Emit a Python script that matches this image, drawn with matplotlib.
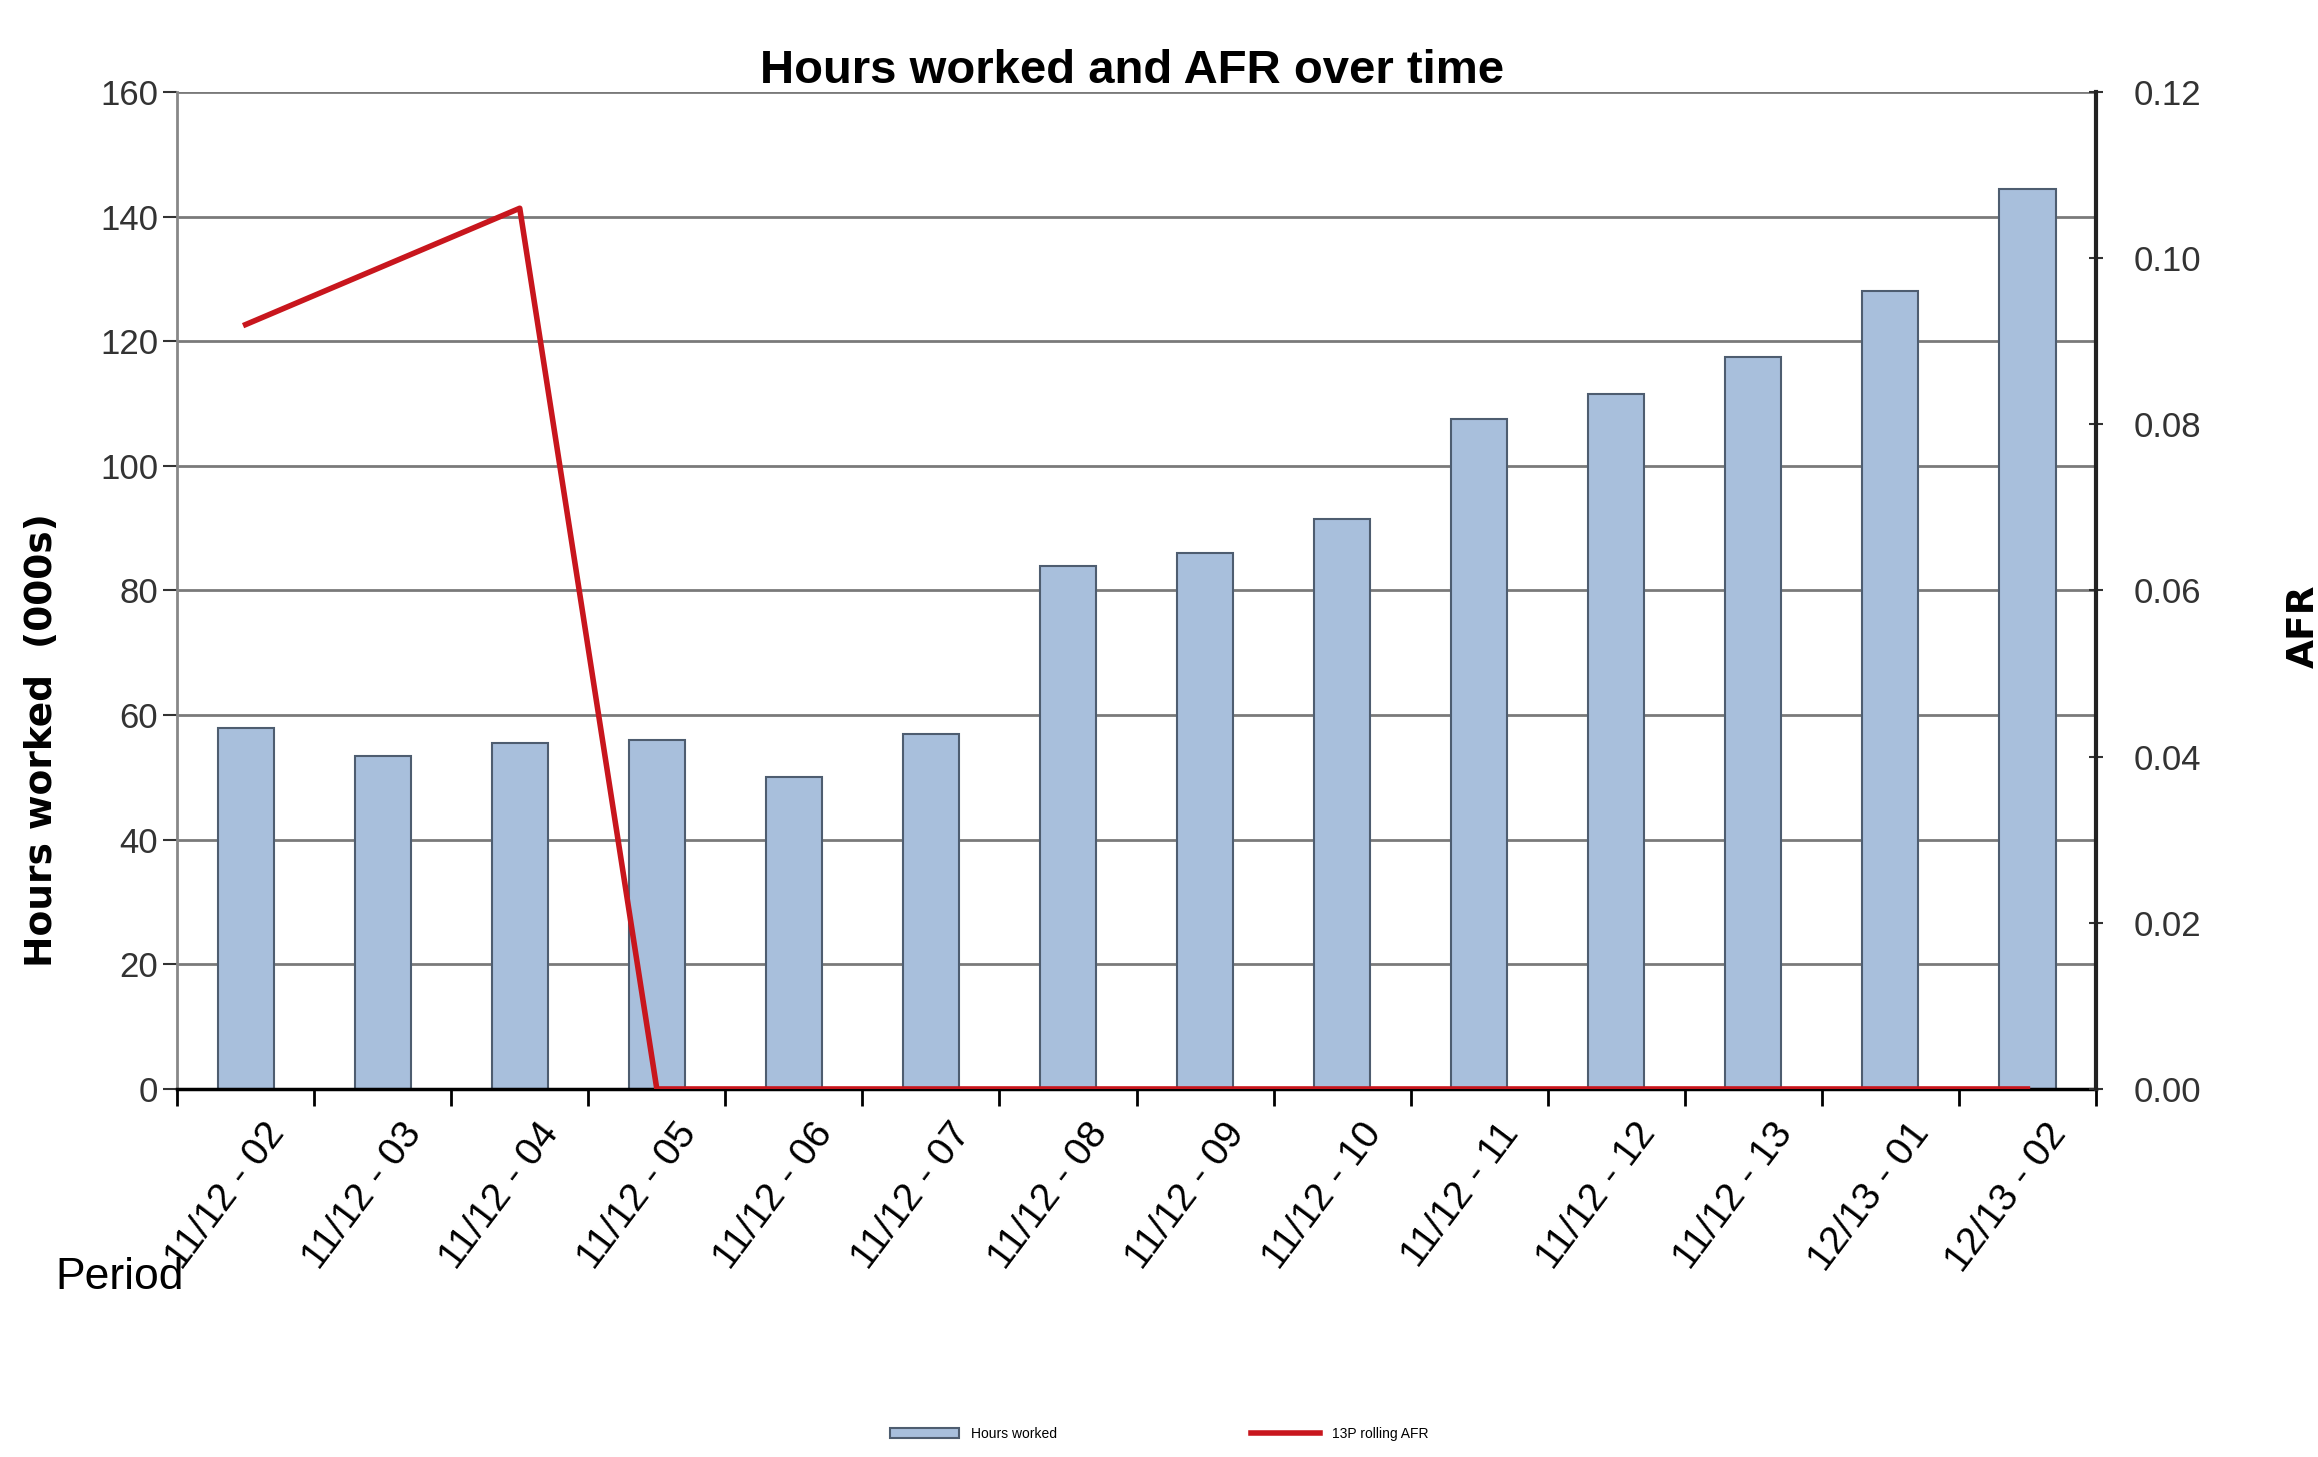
import numpy as np
import matplotlib
matplotlib.use("Agg")
import matplotlib.pyplot as plt
from matplotlib.transforms import ScaledTranslation

# --------------------------------------------------
# DATA
# --------------------------------------------------
periods = ["11/12 - 02", "11/12 - 03", "11/12 - 04", "11/12 - 05", "11/12 - 06",
           "11/12 - 07", "11/12 - 08", "11/12 - 09", "11/12 - 10", "11/12 - 11",
           "11/12 - 12", "11/12 - 13", "12/13 - 01", "12/13 - 02"]
hours_worked = [58, 53.5, 55.5, 56, 50, 57, 84, 86, 91.5, 107.5, 111.5, 117.5, 128, 144.5]
afr = [0.092, 0.099, 0.106, 0, 0, 0, 0, 0, 0, 0, 0, 0, 0, 0]
left_ticks = [0, 20, 40, 60, 80, 100, 120, 140, 160]
right_ticks = [0.00, 0.02, 0.04, 0.06, 0.08, 0.10, 0.12]

plt.rcParams["font.family"] = ["Liberation Sans", "DejaVu Sans"]

fig = plt.figure(figsize=(23.18, 14.57), dpi=100)
ax = fig.add_axes([0.0764, 0.2526, 0.8278, 0.6843])

x = np.arange(len(periods))
ax.bar(x, hours_worked, width=0.41, color="#a8bfdc", edgecolor="#4e5d70",
       linewidth=1.5, zorder=3, label="Hours worked")
ax.set_xlim(-0.5, len(periods) - 0.5)
ax.set_ylim(0, 160)
ax.set_yticks(left_ticks)
ax.tick_params(axis="y", labelsize=25, length=10, width=1.5, colors="#333333")
ax.yaxis.grid(True, color="#7a7a7a", linewidth=2, zorder=0)

# category ticks at the boundaries, labels at the centres
ax.set_xticks(np.arange(len(periods) + 1) - 0.5)
ax.set_xticklabels([])
ax.set_xticks(x, minor=True)
ax.set_xticklabels(periods, minor=True, rotation=53, ha="right", va="top",
                   rotation_mode="anchor", fontsize=28)
ax.tick_params(axis="x", which="major", length=12, width=2, direction="out")
ax.tick_params(axis="x", which="minor", length=0, pad=20)
offset = ScaledTranslation(0.18, 0, fig.dpi_scale_trans)
for lbl in ax.get_xticklabels(minor=True):
    lbl.set_transform(lbl.get_transform() + offset)

for side in ["top", "right"]:
    ax.spines[side].set_visible(False)
ax.spines["left"].set_color("#888888")
ax.spines["left"].set_linewidth(2)
ax.spines["bottom"].set_linewidth(2.5)
ax.spines["bottom"].set_zorder(5)

ax.set_ylabel("Hours worked  (000s)", fontsize=27, fontweight="bold",
              family=["DejaVu Sans"])
ax.yaxis.set_label_coords(-0.061, 0.35)

ax2 = ax.twinx()
ax2.plot(x, afr, color="#c8161d", linewidth=4, zorder=4, label="13P rolling AFR")
ax2.set_ylim(0, 0.12)
ax2.set_yticks(right_ticks)
ax2.set_yticklabels([f"{t:.2f}" for t in right_ticks])
ax2.tick_params(axis="y", labelsize=25, length=10, width=1.5, direction="inout",
                pad=22, colors="#333333")
ax2.spines["right"].set_linewidth(3)
ax2.spines["right"].set_color("#222222")
for side in ["top", "left", "bottom"]:
    ax2.spines[side].set_visible(False)

fig.text(0.4885, 0.951, "Hours worked and AFR over time", ha="center", va="center",
         fontsize=34, fontweight="bold",
         family=["Liberation Sans Narrow", "Liberation Sans", "DejaVu Sans"])
fig.text(0.994, 0.57, "AFR", rotation=90, ha="center", va="center",
         fontsize=27, fontweight="bold", family=["DejaVu Sans"])
fig.text(0.024, 0.123, "Period", ha="left", va="center", fontsize=32)

h1, l1 = ax.get_legend_handles_labels()
h2, l2 = ax2.get_legend_handles_labels()
fig.legend(h1 + h2, l1 + l2, loc="center", bbox_to_anchor=(0.5, 0.016), ncol=2,
           frameon=False, fontsize=10, columnspacing=14, handlelength=5)

fig.savefig("out.png", dpi=100)
